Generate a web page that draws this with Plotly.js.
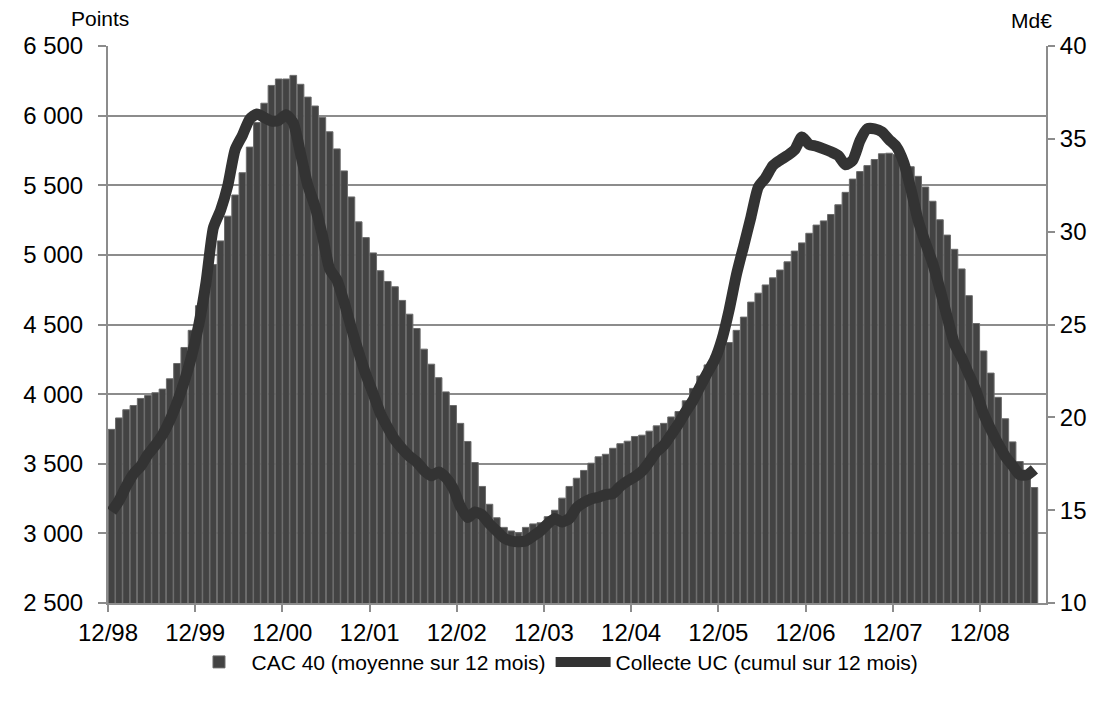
<!DOCTYPE html>
<html>
<head>
<meta charset="utf-8">
<script src="https://cdn.plot.ly/plotly-3.0.1.min.js"></script>
<style>
html,body{margin:0;padding:0;background:#fff;}
#chart{width:1099px;height:706px;}
</style>
</head>
<body>
<div id="chart"></div>
<script>
// Monthly values, first month = 12/98
var cac40 = [
 3747,3829,3888,3918,3969,3990,4010,4036,4110,4220,4335,4458,
 4635,4750,4930,5100,5278,5430,5590,5774,5950,6089,6217,6263,
 6263,6289,6225,6133,6069,5987,5884,5761,5603,5416,5237,5124,
 5014,4886,4809,4771,4673,4574,4471,4323,4215,4118,4016,3918,
 3790,3660,3509,3337,3209,3112,3043,3017,3004,3043,3068,3076,
 3120,3166,3253,3337,3396,3452,3504,3550,3568,3611,3644,3662,
 3696,3705,3734,3772,3790,3836,3875,3952,4041,4130,4210,4280,
 4340,4370,4458,4553,4661,4725,4784,4835,4891,4950,5027,5086,
 5155,5214,5244,5290,5360,5449,5544,5598,5641,5685,5726,5730,
 5720,5690,5633,5564,5487,5385,5252,5142,5040,4899,4707,4507,
 4310,4151,3977,3823,3657,3516,3447,3329
];
var collecteUC = [
 14.93,15.5,16.28,16.95,17.37,18.0,18.49,19.06,19.83,20.79,21.94,23.29,
 25.0,27.3,30.2,31.16,32.5,34.42,35.19,36.06,36.34,36.15,35.96,36.0,
 36.3,35.86,34.2,32.5,31.35,29.8,28.0,27.4,26.2,24.8,23.5,22.3,
 21.27,20.2,19.45,18.78,18.3,17.9,17.6,17.14,16.85,17.05,16.76,16.18,
 15.2,14.6,14.9,14.74,14.26,13.88,13.5,13.34,13.3,13.34,13.6,13.88,
 14.26,14.55,14.36,14.55,15.13,15.41,15.6,15.7,15.84,15.9,16.28,16.57,
 16.8,17.1,17.6,18.15,18.5,19.06,19.64,20.3,20.9,21.66,22.4,23.1,
 24.2,25.8,27.7,29.24,30.8,32.4,32.9,33.56,33.85,34.1,34.4,35.1,
 34.7,34.6,34.46,34.3,34.1,33.6,33.85,34.9,35.54,35.54,35.38,34.96,
 34.58,33.75,32.3,30.6,29.4,28.3,26.9,25.4,23.96,23.2,22.3,21.4,
 20.2,19.35,18.58,17.9,17.4,16.9,16.9,17.2
];
var yearLabels = ['12/98','12/99','12/00','12/01','12/02','12/03','12/04','12/05','12/06','12/07','12/08'];
var leftTickVals = [2500,3000,3500,4000,4500,5000,5500,6000,6500];
var leftTickText = ['2 500','3 000','3 500','4 000','4 500','5 000','5 500','6 000','6 500'];
var rightTickVals = [10,15,20,25,30,35,40];

var months = cac40.map(function(_, i){ return i; });
var yearTickVals = yearLabels.map(function(_, k){ return k*12 - 0.5; });

var FONT = 'Liberation Sans, Arial, sans-serif';

var traces = [
  {
    type: 'bar',
    name: 'CAC 40 (moyenne sur 12 mois)',
    x: months,
    y: cac40,
    yaxis: 'y',
    marker: {color: '#434343', line: {color: '#6b6b6b', width: 1}},
    hoverinfo: 'skip'
  },
  {
    type: 'scatter',
    mode: 'lines',
    name: 'Collecte UC (cumul sur 12 mois)',
    x: months,
    y: collecteUC,
    yaxis: 'y2',
    line: {color: '#333333', width: 11, shape: 'spline', smoothing: 0.6},
    hoverinfo: 'skip'
  }
];

var layout = {
  width: 1099,
  height: 706,
  paper_bgcolor: '#ffffff',
  plot_bgcolor: '#ffffff',
  margin: {l: 108, r: 53, t: 46, b: 103, pad: 0},
  font: {family: FONT, color: '#000000', size: 24},
  bargap: 0.08,
  showlegend: true,
  legend: {
    orientation: 'h',
    xref: 'container', yref: 'container',
    x: 0.505, xanchor: 'center',
    y: 0.062, yanchor: 'middle',
    font: {family: FONT, size: 21, color: '#000'},
    itemwidth: 55,
    traceorder: 'normal'
  },
  xaxis: {
    range: [-0.5, 128.6],
    tickmode: 'array',
    tickvals: yearTickVals,
    ticktext: yearLabels,
    ticks: 'outside',
    ticklen: 7,
    tickcolor: '#8c8c8c',
    tickwidth: 2,
    showgrid: false,
    zeroline: false,
    showline: true,
    linecolor: '#8c8c8c',
    linewidth: 2,
    tickfont: {family: FONT, size: 24, color: '#000'},
    ticklabelstandoff: 0
  },
  yaxis: {
    range: [2500, 6500],
    tickmode: 'array',
    tickvals: leftTickVals,
    ticktext: leftTickText,
    ticks: 'outside',
    ticklen: 8,
    tickcolor: '#8c8c8c',
    tickwidth: 2,
    showgrid: true,
    gridcolor: '#8c8c8c',
    gridwidth: 2,
    zeroline: false,
    showline: true,
    linecolor: '#8c8c8c',
    linewidth: 2,
    tickfont: {family: FONT, size: 24, color: '#000'},
    ticklabelstandoff: 10
  },
  yaxis2: {
    range: [10, 40],
    overlaying: 'y',
    side: 'right',
    tickmode: 'array',
    tickvals: rightTickVals,
    ticks: 'outside',
    ticklen: 7,
    tickcolor: '#8c8c8c',
    tickwidth: 2,
    showgrid: false,
    zeroline: false,
    showline: true,
    linecolor: '#8c8c8c',
    linewidth: 2,
    tickfont: {family: FONT, size: 24, color: '#000'},
    ticklabelstandoff: 0
  },
  annotations: [
    {text: 'Points', xref: 'paper', yref: 'paper', x: -0.008, y: 1.0, yshift: 28,
     xanchor: 'center', yanchor: 'middle', showarrow: false,
     font: {family: FONT, size: 21, color: '#000'}},
    {text: 'Md€', xref: 'paper', yref: 'paper', x: 0.985, y: 1.0, yshift: 26,
     xanchor: 'center', yanchor: 'middle', showarrow: false,
     font: {family: FONT, size: 21, color: '#000'}}
  ]
};

Plotly.newPlot('chart', traces, layout, {displayModeBar: false, staticPlot: true});
</script>
</body>
</html>
